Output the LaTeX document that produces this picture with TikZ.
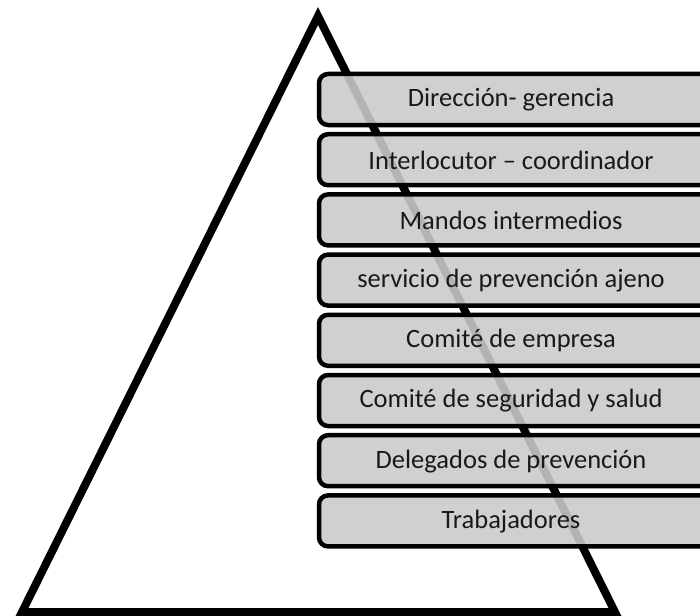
\documentclass[tikz,border=0pt]{standalone}
\usepackage{fontspec}
\setmainfont{Carlito}
\definecolor{boxgray}{RGB}{202,202,202}
\begin{document}
\begin{tikzpicture}[x=1pt,y=-1pt,
  tri/.style={draw=black,line width=8pt,line join=miter},
  levelbox/.style={draw=black,line width=4.5pt,fill=boxgray,fill opacity=0.89,
    rounded corners=9pt,minimum width=421pt,minimum height=51pt,inner sep=0pt},
  leveltext/.style={font=\fontsize{26.5}{30}\selectfont,text=black!90,inner sep=0pt,anchor=center}]
\useasboundingbox (0,0) rectangle (700,615);
\coordinate (apex) at (318,16);
\coordinate (bl) at (22,612);
\coordinate (br) at (615,612);
\draw[tri] (apex) -- (bl) -- (br) -- cycle;
\foreach \i/\t in {0/{Dirección- gerencia},1/{Interlocutor – coordinador},2/{Mandos intermedios},3/{servicio de prevención ajeno},4/{Comité de empresa},5/{Comité de seguridad y salud},6/{Delegados de prevención},7/{Trabajadores}}{
  \node[levelbox] (box\i) at (529.5,{99.5+60.2*\i}) {};
  \node[leveltext] (txt\i) at (511,{100+60.2*\i}) {\t};
}
\end{tikzpicture}
\end{document}
